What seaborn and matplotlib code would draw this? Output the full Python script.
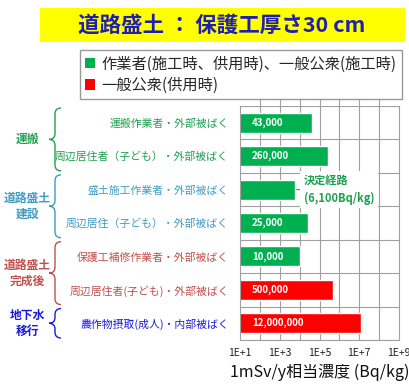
import matplotlib
matplotlib.use("Agg")
import matplotlib.pyplot as plt
import seaborn as sns
import pandas as pd
import numpy as np
from matplotlib.path import Path
from matplotlib.patches import PathPatch, Patch, Rectangle

sns.set_theme(style="white")
plt.rcParams['font.family'] = ['Noto Sans CJK JP', 'DejaVu Sans']

# ---- data ----
categories = ["運搬作業者・外部被ばく",
              "周辺居住者（子ども）・外部被ばく",
              "盛土施工作業者・外部被ばく",
              "周辺居住（子ども）・外部被ばく",
              "保護工補修作業者・外部被ばく",
              "周辺居住者(子ども)・外部被ばく",
              "農作物摂取(成人)・内部被ばく"]
values = [43000, 260000, 6100, 25000, 10000, 500000, 12000000]
value_labels = ["43,000", "260,000", "", "25,000", "10,000", "500,000", "12,000,000"]
series = ["作業者(施工時、供用時)、一般公衆(施工時)"] * 5 + ["一般公衆(供用時)"] * 2
series_names = ["作業者(施工時、供用時)、一般公衆(施工時)", "一般公衆(供用時)"]
series_colors = ["#00B050", "#FF0000"]
label_colors = ["#1FA050", "#1FA050", "#3E9CC4", "#3E9CC4", "#C0504D", "#C0504D", "#1A1AE0"]
groups = ["運搬", "道路盛土\n建設", "道路盛土\n完成後", "地下水\n移行"]
group_colors = ["#1FA050", "#3E9CC4", "#C0504D", "#1A1AE0"]
group_rows = [(0, 1), (2, 3), (4, 5), (6, 6)]
xtick_vals = [1e1, 1e3, 1e5, 1e7, 1e9]
xtick_labels = ["1E+1", "1E+3", "1E+5", "1E+7", "1E+9"]
title = "道路盛土 ： 保護工厚さ30 cm"
xlabel = "1mSv/y相当濃度 (Bq/kg)"
annot = "決定経路\n(6,100Bq/kg)"

row_ids = [f"r{i}" for i in range(len(categories))]
df = pd.DataFrame({"row": row_ids, "value": values, "series": series})

W, H = 409, 392
fig = plt.figure(figsize=(W / 100, H / 100), dpi=100)

def fx(px):
    return px / W

def fy(py):
    return 1 - py / H

ax_l, ax_r, ax_t, ax_b = 240, 399, 106, 340
ax = fig.add_axes([fx(ax_l), fy(ax_b), fx(ax_r - ax_l), (ax_b - ax_t) / H])

sns.barplot(data=df, x="value", y="row", hue="series", hue_order=series_names,
            palette=series_colors, order=row_ids, orient="h", dodge=False,
            width=0.6, saturation=1, legend=False, ax=ax)
ax.set_xscale("log")
ax.set_xlim(1e1, 1e9)
ax.set_ylim(6.5, -0.5)

# grid
for k in range(2, 9):
    ax.axvline(10.0 ** k, ymax=1.03, clip_on=False, color="#A0A0A0", lw=0.8, zorder=0)
for k in np.arange(-0.5, 7, 1.0):
    ax.axhline(k, color="#A0A0A0", lw=0.8, zorder=0)
ax.set_axisbelow(True)
ax.set_xticks(xtick_vals)
ax.set_xticklabels(xtick_labels, fontsize=7.5, color="#222222")
ax.tick_params(axis="x", which="major", length=0, pad=6)
ax.tick_params(axis="x", which="minor", bottom=True, direction="in", length=2.5,
               color="#A0A0A0", width=0.6)
for s in ax.spines.values():
    s.set_color("#A0A0A0")
    s.set_linewidth(0.8)
ax.spines["top"].set_visible(False)

ax.set_yticks(range(len(categories)))
ax.set_yticklabels(categories, fontsize=7.8)
for t, c in zip(ax.get_yticklabels(), label_colors):
    t.set_color(c)
ax.tick_params(axis="y", length=0, pad=8)
ax.set_ylabel("")
ax.set_xlabel(xlabel, fontsize=11.5, color="#111111", labelpad=4)

# value labels in bars
for i, lab in enumerate(value_labels):
    if lab:
        ax.text(10 ** 1.6, i, lab, color="white", fontsize=7, va="center", ha="left",
                fontweight="semibold")

# annotation for 6,100
ax.annotate(annot, xy=(values[2], 2), xytext=(10 ** 4.2, 2), color="#1FA050",
            fontsize=8, fontweight="semibold", va="center", ha="left", linespacing=1.45,
            bbox=dict(boxstyle="square,pad=0.3", fc="white", ec="none"),
            arrowprops=dict(arrowstyle="-", color="#1FA050", lw=0.8,
                            shrinkA=0, shrinkB=1))

# title banner
fig.patches.append(Rectangle((fx(40), fy(42)), fx(365), 34 / H, transform=fig.transFigure,
                             facecolor="#FFFF00", edgecolor="none", zorder=0))
fig.text(fx(222), fy(25), title, fontsize=15.5, fontweight="bold", color="#2020B0",
         ha="center", va="center")

# legend
handles = [Patch(facecolor=c, edgecolor="none") for c in series_colors]
fig.legend(handles, series_names, loc="upper left",
           bbox_to_anchor=(fx(80), fy(50)), fontsize=11, frameon=True,
           fancybox=False, edgecolor="#999999", framealpha=1,
           handlelength=0.65, handleheight=0.65, handletextpad=0.4,
           labelspacing=0.3, borderpad=0.35, borderaxespad=0)

# braces and group labels
row_h = (ax_b - ax_t) / 7.0

def brace(x_tip, x_end, y_top, y_bot, color):
    ym = (y_top + y_bot) / 2
    xm = (x_tip + x_end) / 2
    r = min(6, (y_bot - y_top) / 4)
    verts = [(x_end, y_top), (xm, y_top), (xm, y_top + r),
             (xm, ym - r), (xm, ym), (x_tip, ym),
             (xm, ym), (xm, ym + r), (xm, y_bot - r),
             (xm, y_bot), (x_end, y_bot)]
    codes = [Path.MOVETO, Path.CURVE3, Path.CURVE3,
             Path.LINETO, Path.CURVE3, Path.CURVE3,
             Path.CURVE3, Path.CURVE3, Path.LINETO,
             Path.CURVE3, Path.CURVE3]
    verts_f = [(fx(x), fy(y)) for x, y in verts]
    fig.patches.append(PathPatch(Path(verts_f, codes), transform=fig.transFigure,
                                 fill=False, edgecolor=color, lw=1.0))

for (g, c, (r0, r1)) in zip(groups, group_colors, group_rows):
    y_top = ax_t + r0 * row_h + 2
    y_bot = ax_t + (r1 + 1) * row_h - 2
    brace(49, 61, y_top, y_bot, c)
    fig.text(fx(27), fy((y_top + y_bot) / 2), g, fontsize=8.5, fontweight="bold",
             color=c, ha="center", va="center", linespacing=1.3)

fig.savefig("out.png", dpi=100, facecolor="white")
